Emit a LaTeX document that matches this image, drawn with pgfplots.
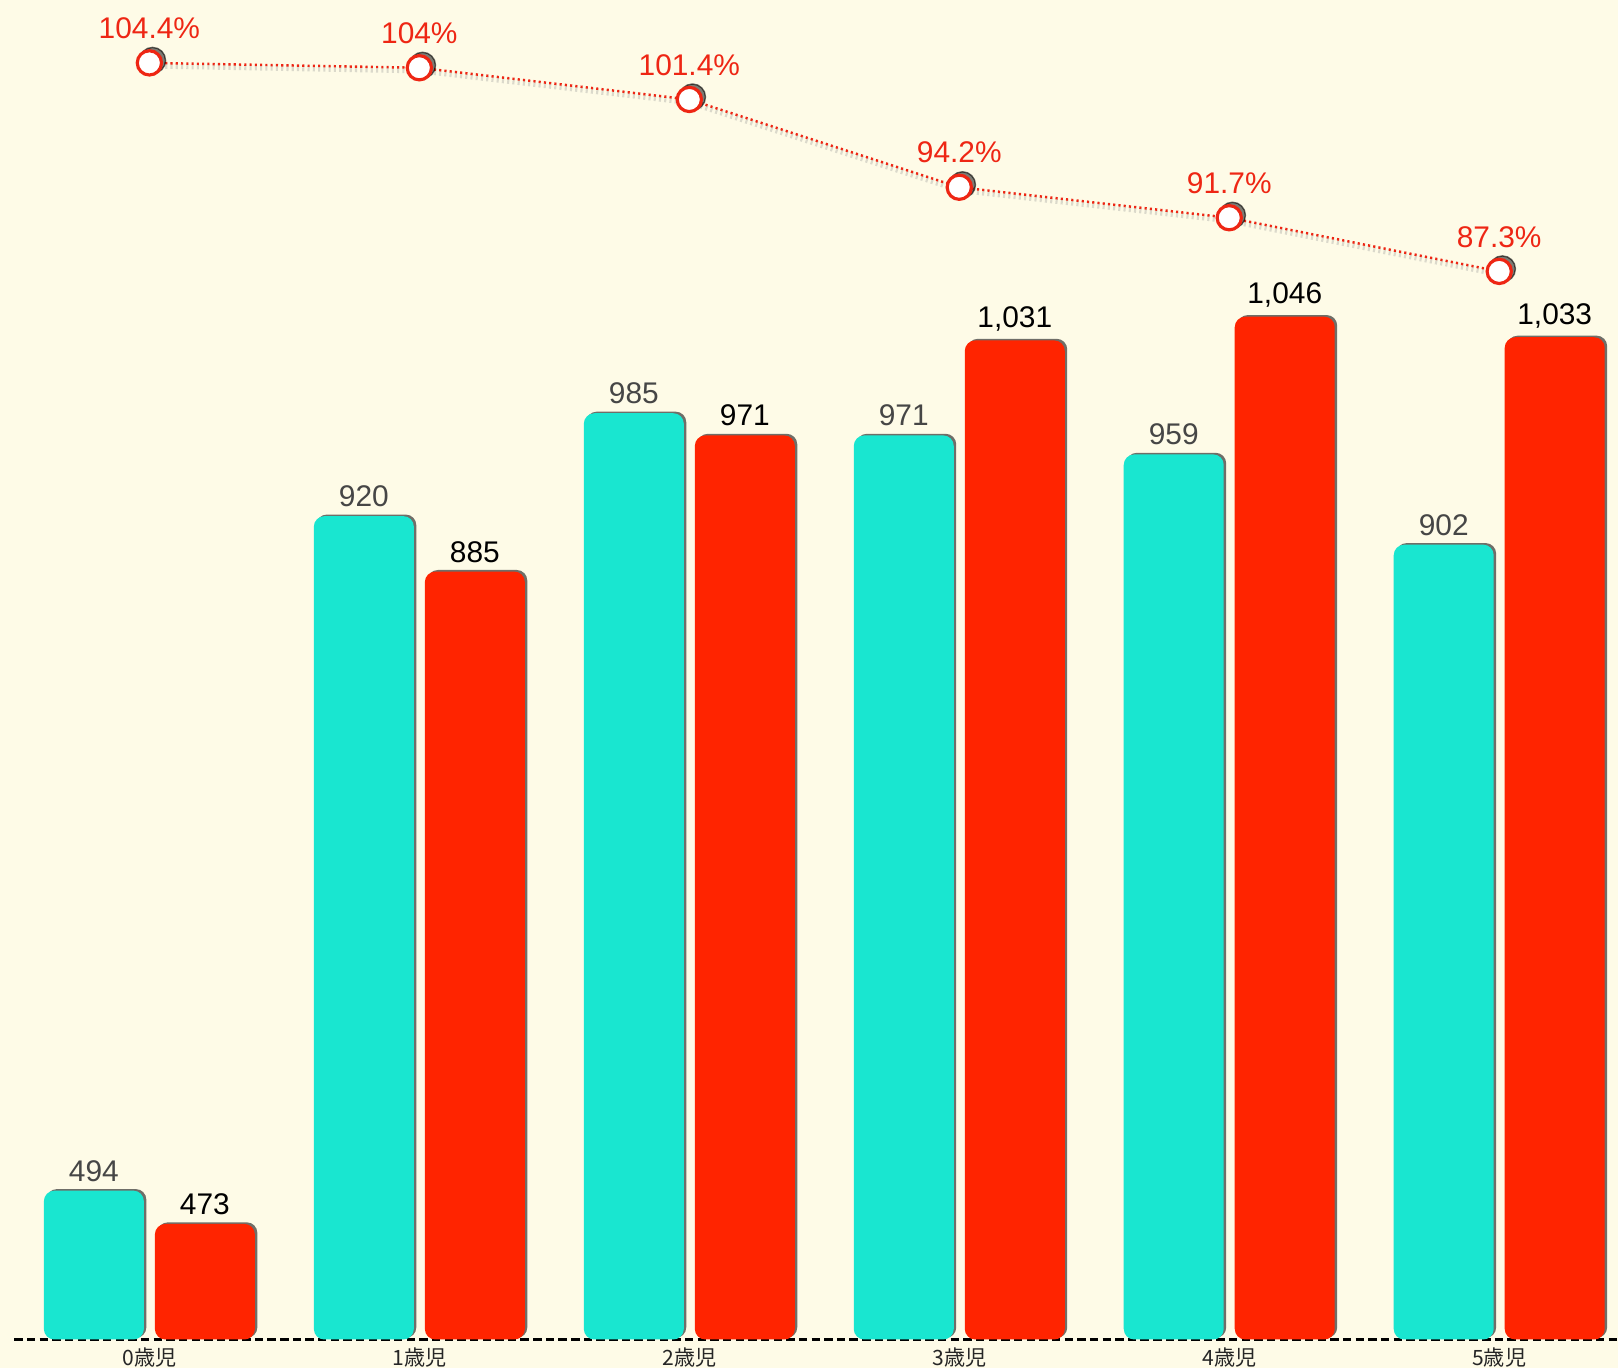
\documentclass[border=0pt]{standalone}
\usepackage{pgfplots}
\pgfplotsset{compat=1.18}
\usepackage{fontspec}
\setmainfont{Liberation Sans}
\newfontfamily\jpfont{Noto Sans CJK JP}
\usetikzlibrary{shadows}

\definecolor{bgcream}{RGB}{254,251,231}
\definecolor{barcyan}{RGB}{25,230,208}
\definecolor{barred}{RGB}{255,36,0}
\definecolor{linered}{RGB}{238,38,20}
\definecolor{cyanlabel}{RGB}{70,70,70}

\pgfplotsset{
  basebox/.style={
    at={(0,0)}, anchor=south west,
    width=16.036cm, height=13.395cm, scale only axis,
    xmin=-0.5, xmax=5.44,
    /pgf/number format/assume math mode=true,
    /pgf/number format/1000 sep={,},
  },
}
\tikzset{
  barlabel/.style={font=\fontsize{8.5}{9}\selectfont, anchor=south, inner sep=0pt, yshift=2.4pt},
  barshadow/.style={drop shadow={shadow xshift=0.7pt, shadow yshift=0.45pt, opacity=0.7, fill=black!80}},
}

\begin{document}
\begin{tikzpicture}
\fill[bgcream] (-0.144cm,-0.285cm) rectangle (16.036cm,13.395cm);
\useasboundingbox (-0.144cm,-0.285cm) rectangle (16.036cm,13.395cm);

% bars: counts
\begin{axis}[
  basebox,
  ymin=400, ymax=1246,
  axis y line=none, axis x line*=bottom,
  x axis line style={-, black, line width=0.8pt, dash pattern=on 2.4pt off 1.2pt},
  xtick={0,...,5},
  xticklabels={0歳児,1歳児,2歳児,3歳児,4歳児,5歳児},
  major tick length=0pt,
  xticklabel style={font=\jpfont\fontsize{6}{7}\selectfont, text=black!85, inner sep=0pt, yshift=-2.2pt},
  ybar, bar width=1.0cm,
]
\addplot[fill=barcyan, draw=none, bar shift=-0.555cm, rounded corners=3pt, barshadow,
  nodes near coords, every node near coord/.append style={barlabel, text=cyanlabel}]
  coordinates {(0,494) (1,920) (2,985) (3,971) (4,959) (5,902)};
\addplot[fill=barred, draw=none, bar shift=0.555cm, rounded corners=3pt, barshadow,
  nodes near coords, every node near coord/.append style={barlabel, text=black}]
  coordinates {(0,473) (1,885) (2,971) (3,1031) (4,1046) (5,1033)};
\end{axis}

% line: ratio in percent
\begin{axis}[
  basebox,
  ymin=-0.3, ymax=109.56,
  axis lines=none, clip=false,
]
\addplot[only marks, mark=*, mark size=3.7pt, mark options={fill=black!85, draw=none},
  opacity=0.6, transform canvas={shift={(0.45pt,0.35pt)}}]
  coordinates {(0,104.4) (1,104) (2,101.4) (3,94.2) (4,91.7) (5,87.3)};
\addplot[linered, line width=0.7pt, dash pattern=on 0.6pt off 0.9pt,
  preaction={draw=black!45, opacity=0.3, line width=1.6pt, transform canvas={yshift=-0.8pt}},
  mark=*, mark size=3.45pt, mark options={solid, fill=white, draw=linered, line width=0.9pt},
  nodes near coords={\pgfmathprintnumber{\pgfplotspointmeta}\%},
  every node near coord/.append style={font=\fontsize{8.5}{9}\selectfont, text=linered, anchor=south, inner sep=0pt, yshift=6.4pt}]
  coordinates {(0,104.4) (1,104) (2,101.4) (3,94.2) (4,91.7) (5,87.3)};
\end{axis}
\end{tikzpicture}
\end{document}
